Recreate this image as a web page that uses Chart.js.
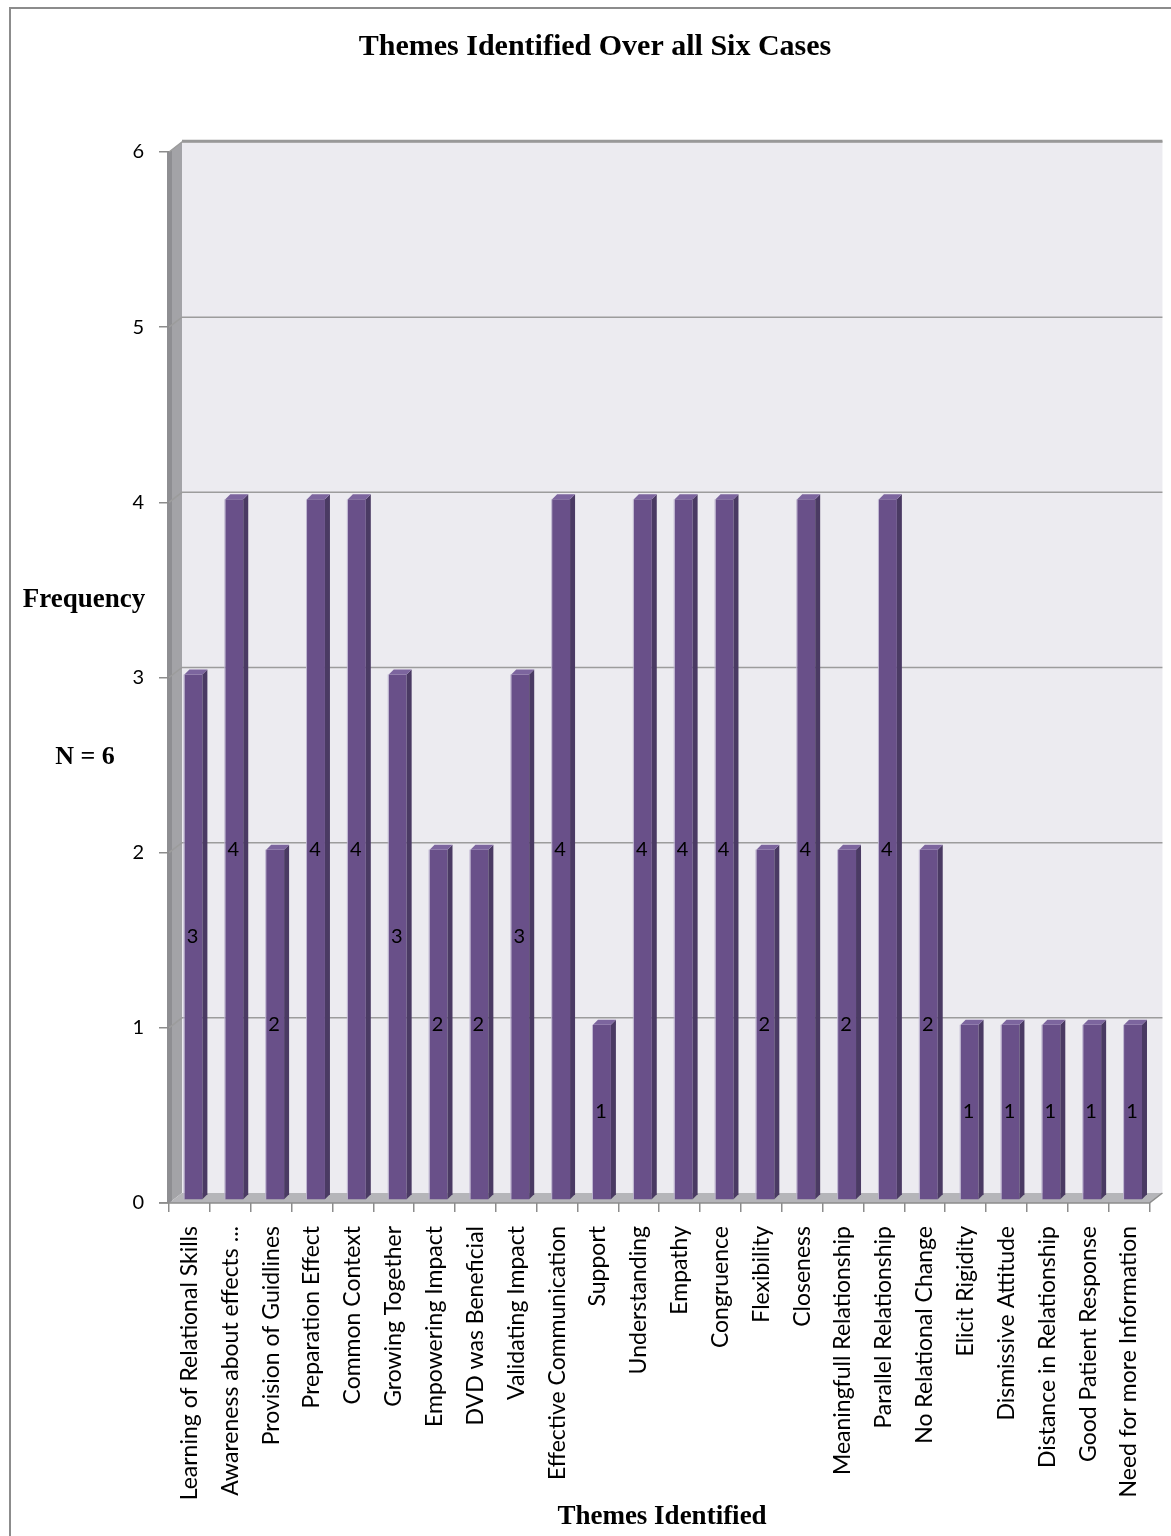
<!DOCTYPE html>
<html>
<head>
<meta charset="utf-8">
<script src="https://cdn.jsdelivr.net/npm/chart.js@4.4.1/dist/chart.umd.min.js"></script>
<style>
  html, body { margin: 0; padding: 0; background: #ffffff; }
  #wrap { width: 1171px; height: 1536px; }
</style>
</head>
<body>
<div id="wrap"><canvas id="chart" width="1171" height="1536"></canvas></div>
<script>
// Themes and how many of the six cases each one was found in
const categories = [
  'Learning of Relational Skills',
  'Awareness about effects ...',
  'Provision of Guidlines',
  'Preparation Effect',
  'Common Context',
  'Growing Together',
  'Empowering Impact',
  'DVD was Beneficial',
  'Validating Impact',
  'Effective Communication',
  'Support',
  'Understanding',
  'Empathy',
  'Congruence',
  'Flexibility',
  'Closeness',
  'Meaningfull Relationship',
  'Parallel Relationship',
  'No Relational Change',
  'Elicit Rigidity',
  'Dismissive Attitude',
  'Distance in Relationship',
  'Good Patient Response',
  'Need for more Information'
];
const frequencies = [3, 4, 2, 4, 4, 3, 2, 2, 3, 4, 1, 4, 4, 4, 2, 4, 2, 4, 2, 1, 1, 1, 1, 1];
const yTickValues = [0, 1, 2, 3, 4, 5, 6];

const titleText = 'Themes Identified Over all Six Cases';
const yTitleText = 'Frequency';
const yNoteText = 'N = 6';
const xTitleText = 'Themes Identified';

// depth of the back wall and of each column, in pixels
const WALL_DX = 13, WALL_DY = -10;
const BAR_SHIFT_X = 4, BAR_SHIFT_Y = -3;
const BAR_DX = 5, BAR_DY = -5;

const COLORS = {
  wall: '#ecebf0',
  sideWall: '#a3a3a7',
  sideWallEdge: '#8e8e92',
  floor: '#b5b5b9',
  grid: '#9c9c9c',
  barFront: '#695089',
  barSide: '#4a3a63',
  barTop: '#7c659e',
  barEdge: 'rgba(185,175,205,0.9)',
  frame: '#8c8c8c'
};

const scene3d = {
  id: 'scene3d',
  beforeDraw(chart) {
    const { ctx, chartArea: a, scales } = chart;
    const y = scales.y;
    ctx.save();
    ctx.fillStyle = '#ffffff';
    ctx.fillRect(0, 0, chart.width, chart.height);

    // back wall
    ctx.fillStyle = COLORS.wall;
    ctx.fillRect(a.left + WALL_DX, a.top + WALL_DY, a.right - a.left, a.bottom - a.top);

    // left side wall
    ctx.fillStyle = COLORS.sideWall;
    ctx.beginPath();
    ctx.moveTo(a.left, a.bottom);
    ctx.lineTo(a.left, a.top);
    ctx.lineTo(a.left + WALL_DX, a.top + WALL_DY);
    ctx.lineTo(a.left + WALL_DX, a.bottom + WALL_DY);
    ctx.closePath();
    ctx.fill();
    ctx.fillStyle = COLORS.sideWallEdge;
    ctx.fillRect(a.left - 2, a.top - 1, 5, a.bottom - a.top + 1);

    // floor
    ctx.fillStyle = COLORS.floor;
    ctx.beginPath();
    ctx.moveTo(a.left, a.bottom);
    ctx.lineTo(a.right, a.bottom);
    ctx.lineTo(a.right + WALL_DX, a.bottom + WALL_DY);
    ctx.lineTo(a.left + WALL_DX, a.bottom + WALL_DY);
    ctx.closePath();
    ctx.fill();

    // gridlines across the side wall and the back wall
    ctx.strokeStyle = COLORS.grid;
    ctx.lineWidth = 1.5;
    yTickValues.forEach(v => {
      const py = y.getPixelForValue(v);
      if (v === 0) return;
      ctx.beginPath();
      ctx.moveTo(a.left, py);
      ctx.lineTo(a.left + WALL_DX, py + WALL_DY);
      ctx.lineTo(a.right + WALL_DX, py + WALL_DY);
      ctx.stroke();
    });
    // top edge of the back wall
    ctx.lineWidth = 2.5;
    ctx.strokeStyle = '#999999';
    ctx.beginPath();
    ctx.moveTo(a.left + WALL_DX, a.top + WALL_DY - 1);
    ctx.lineTo(a.right + WALL_DX, a.top + WALL_DY - 1);
    ctx.stroke();

    // front edge of the floor
    ctx.lineWidth = 1.5;
    ctx.strokeStyle = COLORS.frame;
    ctx.beginPath();
    ctx.moveTo(a.left - 10, a.bottom);
    ctx.lineTo(a.right, a.bottom);
    ctx.lineTo(a.right + WALL_DX, a.bottom + WALL_DY);
    ctx.stroke();
    ctx.restore();
  },
  beforeDatasetsDraw(chart) {
    chart.ctx.save();
    chart.ctx.translate(BAR_SHIFT_X, BAR_SHIFT_Y);
  },
  afterDatasetsDraw(chart) {
    const ctx = chart.ctx;
    const meta = chart.getDatasetMeta(0);
    meta.data.forEach((bar, i) => {
      const p = bar.getProps(['x', 'y', 'base', 'width'], true);
      const l = p.x - p.width / 2, r = p.x + p.width / 2;
      // light edge along the left of the front face
      ctx.fillStyle = COLORS.barEdge;
      ctx.fillRect(l - 1, p.y, 1, p.base - p.y);
      // side face
      ctx.fillStyle = COLORS.barSide;
      ctx.beginPath();
      ctx.moveTo(r, p.y);
      ctx.lineTo(r + BAR_DX, p.y + BAR_DY);
      ctx.lineTo(r + BAR_DX, p.base + BAR_DY);
      ctx.lineTo(r, p.base);
      ctx.closePath();
      ctx.fill();
      // top face
      ctx.fillStyle = COLORS.barTop;
      ctx.beginPath();
      ctx.moveTo(l, p.y);
      ctx.lineTo(r, p.y);
      ctx.lineTo(r + BAR_DX, p.y + BAR_DY);
      ctx.lineTo(l + BAR_DX, p.y + BAR_DY);
      ctx.closePath();
      ctx.fill();
      // value label in the middle of the column
      ctx.fillStyle = '#000000';
      ctx.font = '20px Lato';
      ctx.textAlign = 'center';
      ctx.textBaseline = 'middle';
      ctx.fillText(String(frequencies[i]), p.x - 1, (p.y + p.base) / 2);
    });
    ctx.restore();
  },
  afterDraw(chart) {
    const ctx = chart.ctx;
    ctx.save();
    ctx.fillStyle = '#000000';
    ctx.textBaseline = 'middle';
    ctx.textAlign = 'center';
    ctx.font = 'bold 30px "Liberation Serif"';
    ctx.fillText(titleText, 595, 47);
    ctx.font = 'bold 27px "Liberation Serif"';
    ctx.fillText(yTitleText, 84, 600);
    ctx.font = 'bold 26px "Liberation Serif"';
    ctx.fillText(yNoteText, 85, 757);
    ctx.font = 'bold 27px "Liberation Serif"';
    ctx.fillText(xTitleText, 662, 1517);

    // chart frame
    ctx.strokeStyle = COLORS.frame;
    ctx.lineWidth = 2;
    ctx.strokeRect(10, 8, 1200, 1600);
    ctx.restore();
  }
};

new Chart(document.getElementById('chart'), {
  type: 'bar',
  data: {
    labels: categories,
    datasets: [{
      data: frequencies,
      backgroundColor: COLORS.barFront,
      borderWidth: 0,
      categoryPercentage: 1,
      barPercentage: 18 / 41,
      clip: false
    }]
  },
  options: {
    responsive: false,
    devicePixelRatio: 1,
    animation: false,
    layout: { padding: { top: 152, right: 18, bottom: 0, left: 0 } },
    plugins: {
      legend: { display: false },
      title: { display: false },
      tooltip: { enabled: false }
    },
    scales: {
      x: {
        type: 'category',
        offset: true,
        grid: { offset: true, drawOnChartArea: false, drawTicks: true, tickLength: 9, color: COLORS.frame, lineWidth: 1.5 },
        border: { display: false },
        ticks: {
          autoSkip: false,
          maxRotation: 90,
          minRotation: 90,
          padding: 14,
          color: '#000000',
          font: { family: 'Lato', size: 23 }
        },
        afterFit(scale) { scale.height = 333; }
      },
      y: {
        min: 0,
        max: 6,
        afterBuildTicks(scale) { scale.ticks = yTickValues.map(v => ({ value: v })); },
        grid: { drawOnChartArea: false, drawTicks: true, tickLength: 10, color: COLORS.frame, lineWidth: 1.5 },
        border: { display: false },
        ticks: {
          padding: 15,
          color: '#000000',
          font: { family: 'Lato', size: 20 }
        },
        afterFit(scale) { scale.width = 169; }
      }
    }
  },
  plugins: [scene3d]
});
</script>
</body>
</html>
